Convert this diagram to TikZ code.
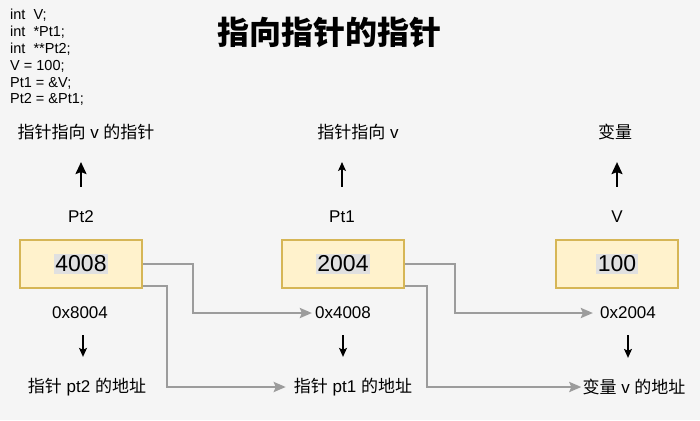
\documentclass[tikz,border=0pt]{standalone}
\usepackage{fontspec}
\setmainfont{Liberation Sans}
\newfontfamily\cjk{Noto Sans CJK SC}
\usetikzlibrary{arrows.meta}
\definecolor{bg}{HTML}{F5F5F5}
\definecolor{boxfill}{HTML}{FFF2CC}
\definecolor{boxline}{HTML}{D6B656}
\definecolor{conncol}{HTML}{9C9C9C}
\definecolor{hl}{HTML}{E0E0E0}
\begin{document}
\begin{tikzpicture}[x=1pt,y=-1pt,
  lbl/.style={inner sep=0pt, font=\fontsize{17}{20}\selectfont},
  code/.style={anchor=west, inner sep=0pt, font=\fontsize{14.5}{16}\selectfont},
  membox/.style={draw=boxline, fill=boxfill, line width=2pt, minimum width=122pt, minimum height=48pt, inner sep=0pt},
  val/.style={fill=hl, inner sep=1.5pt, font=\fontsize{23}{26}\selectfont},
  conn/.style={draw=conncol, line width=2.5pt, -{Stealth[length=12pt,width=10pt,inset=2pt]}},
  uparrow/.style={draw=black, line width=2pt, -{Stealth[length=12pt,width=11pt,inset=2pt]}},
  thinarrow/.style={draw=black, line width=1.3pt, -{Stealth[length=9pt,width=8pt,inset=2pt]}}
]
\fill[bg] (0,0) rectangle (700,420);
\useasboundingbox (0,0) rectangle (700,420);

% code
\node[code] (c1) at (10,15) {int\ \ V;};
\node[code] (c2) at (10,32) {int\ \ *Pt1;};
\node[code] (c3) at (10,49) {int\ \ **Pt2;};
\node[code] (c4) at (10,66) {V = 100;};
\node[code] (c5) at (10,83) {Pt1 = \&V;};
\node[code] (c6) at (10,99) {Pt2 = \&Pt1;};

% title
\node[inner sep=0pt, font=\cjk\bfseries\fontsize{32}{36}\selectfont] (title) at (329,32) {指向指针的指针};

% boxes
\node[membox] (b1) at (81,264) {};
\node[val] (v1) at (b1.center) {4008};
\node[membox] (b2) at (343,264) {};
\node[val] (v2) at (b2.center) {2004};
\node[membox] (b3) at (617,264) {};
\node[val] (v3) at (b3.center) {100};

% names
\node[lbl] (n1) at (81,217) {Pt2};
\node[lbl] (n2) at (342,217) {Pt1};
\node[lbl] (n3) at (617,217) {V};

% top descriptions
\node[lbl] (t1) at (86,132) {{\cjk 指针指向} v {\cjk 的指针}};
\node[lbl] (t2) at (358,132) {{\cjk 指针指向} v};
\node[lbl] (t3) at (615,132) {\cjk 变量};

% addresses
\node[lbl] (a1) at (80,313) {0x8004};
\node[lbl] (a2) at (343,313) {0x4008};
\node[lbl] (a3) at (628,313) {0x2004};

% bottom descriptions
\node[lbl] (d1) at (87,387) {{\cjk 指针} pt2 {\cjk 的地址}};
\node[lbl] (d2) at (353,387) {{\cjk 指针} pt1 {\cjk 的地址}};
\node[lbl] (d3) at (634,387) {{\cjk 变量} v {\cjk 的地址}};

% up arrows
\draw[uparrow, shorten <=24pt, shorten >=22pt] (n1.north) -- (n1.north |- t1.south);
\draw[thinarrow, shorten <=24pt, shorten >=22pt] (n2.north) -- (n2.north |- t2.south);
\draw[uparrow, shorten <=24pt, shorten >=22pt] (n3.north) -- (n3.north |- t3.south);

% down arrows
\draw[thinarrow, shorten <=16pt, shorten >=21pt] ([xshift=3pt]a1.south) -- ([xshift=3pt]a1.south |- d1.north);
\draw[thinarrow, shorten <=16pt, shorten >=21pt] (a2.south) -- (a2.south |- d2.north);
\draw[thinarrow, shorten <=16pt, shorten >=21pt] (a3.south) -- (a3.south |- d3.north);

% grey connectors
\draw[conn] (b1.east) -- ++(50,0) |- ([xshift=-3pt]a2.west);
\draw[conn] ([yshift=-22pt]b1.east) -- ++(24,0) |- ([xshift=-8pt]d2.west);
\draw[conn] (b2.east) -- ++(50,0) |- ([xshift=-7pt]a3.west);
\draw[conn] ([yshift=-22pt]b2.east) -- ++(22,0) |- ([xshift=-1pt]d3.west);
\end{tikzpicture}
\end{document}
